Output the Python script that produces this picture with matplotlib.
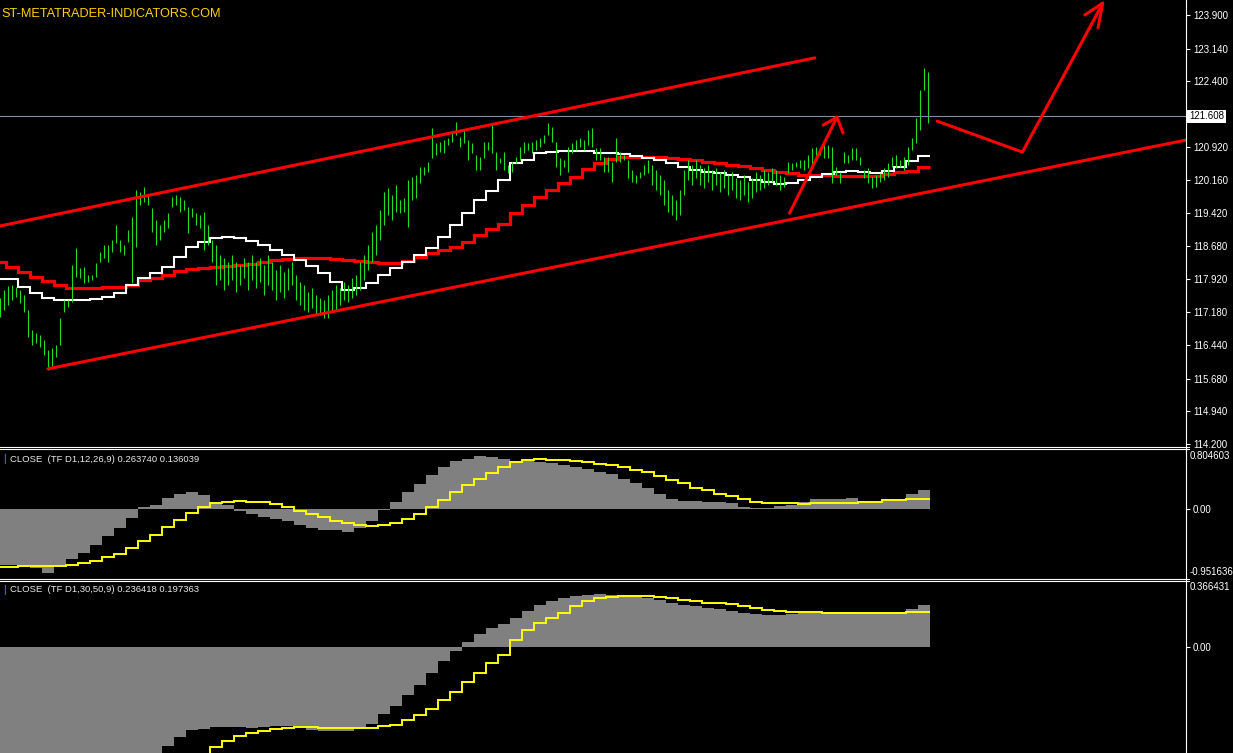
import numpy as np
import matplotlib
matplotlib.use("Agg")
import matplotlib.pyplot as plt
from matplotlib.lines import Line2D

plt.rcParams['font.family'] = ['Liberation Sans', 'DejaVu Sans']

# ---- price bars (H4, three per daily step) ----
bar_high = [
    117.50, 117.68, 117.77, 117.80, 117.75, 117.68, 117.57, 117.23, 116.78, 116.71,
    116.66, 116.55, 116.33, 116.37, 116.44, 117.05, 117.46, 117.46, 118.25, 118.63,
    118.18, 118.20, 118.02, 118.02, 118.29, 118.54, 118.70, 118.70, 118.81, 119.15,
    118.81, 118.70, 119.04, 119.33, 119.94, 119.90, 120.01, 119.83, 119.54, 119.27,
    119.15, 119.27, 119.42, 119.78, 119.83, 119.78, 119.72, 119.56, 119.54, 119.42,
    119.38, 119.45, 119.15, 118.81, 118.70, 118.47, 118.41, 118.32, 118.47, 118.32,
    118.25, 118.41, 118.32, 118.47, 118.32, 118.41, 118.25, 118.47, 118.32, 118.13,
    118.25, 118.09, 118.18, 118.32, 118.02, 117.86, 117.80, 117.64, 117.73, 117.57,
    117.50, 117.46, 117.57, 117.68, 117.80, 117.73, 117.86, 117.80, 117.95, 118.02,
    118.32, 118.47, 118.70, 119.00, 119.15, 119.49, 119.90, 119.99, 119.83, 120.06,
    119.72, 119.76, 120.17, 120.24, 120.28, 120.46, 120.46, 120.58, 121.34, 121.00,
    121.03, 121.07, 121.12, 121.23, 121.48, 121.14, 121.30, 121.07, 121.01, 120.73,
    120.69, 121.03, 121.03, 121.41, 120.80, 120.67, 120.80, 120.51, 120.58, 120.69,
    120.92, 121.03, 121.01, 121.03, 121.07, 121.12, 121.19, 121.46, 121.37, 121.03,
    120.67, 120.62, 120.92, 121.01, 121.07, 121.12, 121.07, 121.30, 121.34, 120.89,
    120.89, 120.69, 120.69, 120.58, 121.12, 120.80, 120.73, 120.62, 120.40, 120.28,
    120.35, 120.51, 120.62, 120.51, 120.40, 120.28, 120.17, 119.94, 119.83, 119.72,
    119.94, 120.40, 120.62, 120.51, 120.62, 120.51, 120.44, 120.51, 120.40, 120.44,
    120.35, 120.40, 120.28, 120.35, 120.21, 120.17, 120.28, 120.12, 120.21, 120.35,
    120.28, 120.40, 120.35, 120.44, 120.40, 120.28, 120.24, 120.58, 120.55, 120.58,
    120.62, 120.62, 120.73, 120.89, 120.92, 120.89, 120.96, 120.96, 120.92, 120.46,
    120.35, 120.80, 120.73, 120.89, 120.89, 120.69, 120.40, 120.44, 120.24, 120.28,
    120.33, 120.44, 120.55, 120.69, 120.73, 120.62, 120.69, 120.92, 121.12, 121.57,
    122.20, 122.70, 122.61,
]
bar_low = [
    117.07, 117.23, 117.34, 117.46, 117.52, 117.39, 117.18, 116.62, 116.44, 116.48,
    116.39, 116.21, 115.87, 115.96, 116.17, 116.44, 117.18, 117.30, 117.41, 117.98,
    117.95, 117.84, 117.86, 117.91, 117.98, 118.32, 118.41, 118.32, 118.54, 118.75,
    118.54, 118.47, 118.77, 117.84, 118.65, 119.60, 119.67, 119.60, 119.00, 118.70,
    118.81, 119.00, 119.08, 119.56, 119.60, 119.45, 119.49, 118.97, 119.33, 119.15,
    119.08, 118.59, 118.70, 118.32, 117.80, 117.91, 117.68, 117.80, 117.91, 117.64,
    117.80, 117.95, 117.68, 117.91, 117.73, 117.86, 117.57, 117.80, 117.68, 117.46,
    117.64, 117.50, 117.68, 117.80, 117.46, 117.34, 117.23, 117.18, 117.27, 117.12,
    117.12, 117.05, 117.05, 117.18, 117.23, 117.34, 117.46, 117.41, 117.50, 117.57,
    117.68, 117.91, 118.13, 118.32, 118.47, 118.81, 119.15, 119.38, 119.27, 119.45,
    119.42, 119.45, 119.11, 119.72, 119.76, 120.10, 120.28, 120.35, 120.67, 120.73,
    120.80, 120.78, 120.96, 121.03, 121.19, 120.91, 121.01, 120.62, 120.78, 120.40,
    120.40, 120.67, 120.85, 120.78, 120.40, 120.55, 120.40, 120.33, 120.35, 120.55,
    120.62, 120.78, 120.85, 120.78, 120.85, 120.91, 121.01, 121.19, 121.03, 120.46,
    120.28, 120.46, 120.35, 120.78, 120.85, 120.91, 120.85, 120.96, 120.91, 120.62,
    120.62, 120.35, 120.35, 120.12, 120.58, 120.58, 120.62, 120.21, 120.12, 120.10,
    120.21, 120.28, 120.33, 120.06, 119.94, 119.83, 119.60, 119.45, 119.38, 119.27,
    119.38, 119.83, 120.17, 120.06, 120.21, 120.06, 119.99, 120.12, 119.94, 120.06,
    119.90, 119.99, 119.83, 119.94, 119.76, 119.72, 119.83, 119.67, 119.76, 119.90,
    119.94, 119.99, 120.06, 120.12, 120.06, 119.94, 120.01, 120.33, 120.40, 120.46,
    120.44, 120.40, 120.44, 120.51, 120.69, 120.73, 120.67, 120.67, 120.10, 120.28,
    120.10, 120.55, 120.55, 120.62, 120.62, 120.51, 120.21, 120.10, 119.99, 120.01,
    120.12, 120.17, 120.24, 120.46, 120.44, 120.46, 120.40, 120.51, 120.85, 121.01,
    121.30, 122.20, 121.46,
]

# ---- daily moving averages (one value per day) ----
ma_fast = [
    117.93, 117.93, 117.75, 117.61, 117.50, 117.46, 117.46, 117.46, 117.48, 117.52,
    117.61, 117.80, 117.95, 118.07, 118.20, 118.43, 118.65, 118.77, 118.86, 118.88,
    118.86, 118.79, 118.70, 118.59, 118.47, 118.36, 118.22, 118.07, 117.86, 117.68,
    117.73, 117.84, 118.02, 118.18, 118.32, 118.47, 118.63, 118.88, 119.15, 119.42,
    119.72, 119.92, 120.17, 120.55, 120.62, 120.78, 120.80, 120.82, 120.82, 120.82,
    120.78, 120.78, 120.76, 120.71, 120.67, 120.62, 120.55, 120.46, 120.40, 120.35,
    120.33, 120.28, 120.24, 120.17, 120.12, 120.08, 120.10, 120.17, 120.24, 120.30,
    120.35, 120.37, 120.35, 120.33, 120.37, 120.46, 120.60, 120.71,
]
ma_slow = [
    118.32, 118.20, 118.09, 117.98, 117.89, 117.80, 117.73, 117.73, 117.73, 117.75,
    117.75, 117.80, 117.91, 117.95, 118.02, 118.11, 118.16, 118.18, 118.20, 118.22,
    118.25, 118.27, 118.32, 118.36, 118.38, 118.41, 118.41, 118.41, 118.38, 118.36,
    118.34, 118.32, 118.29, 118.29, 118.34, 118.43, 118.52, 118.59, 118.65, 118.77,
    118.93, 119.06, 119.17, 119.42, 119.60, 119.78, 119.94, 120.10, 120.24, 120.42,
    120.55, 120.64, 120.69, 120.69, 120.69, 120.69, 120.67, 120.64, 120.62, 120.58,
    120.55, 120.51, 120.49, 120.44, 120.40, 120.35, 120.33, 120.28, 120.28, 120.28,
    120.26, 120.26, 120.26, 120.26, 120.30, 120.35, 120.37, 120.46,
]

# ---- MACD (12,26,9) on D1 ----
macd1_hist = [
    -0.79, -0.78, -0.81, -0.83, -0.89, -0.80, -0.70, -0.615, -0.505, -0.375,
    -0.275, -0.13, 0.02, 0.055, 0.155, 0.21, 0.23, 0.185, 0.10, 0.055,
    -0.03, -0.075, -0.11, -0.14, -0.175, -0.22, -0.275, -0.30, -0.30, -0.32,
    -0.275, -0.175, -0.02, 0.10, 0.23, 0.35, 0.475, 0.58, 0.67, 0.70,
    0.735, 0.725, 0.70, 0.67, 0.67, 0.65, 0.635, 0.615, 0.58, 0.56,
    0.515, 0.485, 0.42, 0.36, 0.295, 0.21, 0.13, 0.11, 0.11, 0.095,
    0.095, 0.085, 0.03, 0.015, 0.015, 0.04, 0.055, 0.095, 0.13, 0.13,
    0.13, 0.155, 0.11, 0.085, 0.11, 0.11, 0.21, 0.264,
]
macd1_signal = [
    -0.81, -0.81, -0.80, -0.80, -0.80, -0.80, -0.79, -0.75, -0.725, -0.67,
    -0.625, -0.55, -0.445, -0.365, -0.25, -0.155, -0.06, 0.025, 0.08, 0.095,
    0.11, 0.10, 0.09, 0.065, 0.02, -0.035, -0.075, -0.12, -0.165, -0.195,
    -0.22, -0.24, -0.22, -0.195, -0.14, -0.07, 0.02, 0.115, 0.23, 0.325,
    0.42, 0.495, 0.58, 0.65, 0.685, 0.70, 0.685, 0.685, 0.67, 0.645,
    0.625, 0.605, 0.58, 0.54, 0.505, 0.45, 0.395, 0.355, 0.295, 0.255,
    0.21, 0.175, 0.13, 0.10, 0.085, 0.075, 0.075, 0.06, 0.075, 0.075,
    0.075, 0.085, 0.095, 0.10, 0.115, 0.115, 0.13, 0.136,
]

# ---- MACD (30,50,9) on D1 ----
macd2_hist = [
    -0.80, -0.80, -0.81, -0.82, -0.83, -0.83, -0.82, -0.80, -0.77, -0.74,
    -0.71, -0.68, -0.65, -0.62, -0.556, -0.51, -0.47, -0.46, -0.453, -0.453,
    -0.453, -0.459, -0.453, -0.448, -0.448, -0.444, -0.47, -0.476, -0.472, -0.476,
    -0.455, -0.433, -0.376, -0.331, -0.27, -0.213, -0.148, -0.079, -0.022, 0.028,
    0.073, 0.107, 0.129, 0.163, 0.202, 0.236, 0.258, 0.275, 0.287, 0.292,
    0.298, 0.292, 0.29, 0.287, 0.275, 0.264, 0.247, 0.236, 0.23, 0.219,
    0.213, 0.202, 0.19, 0.185, 0.18, 0.18, 0.185, 0.19, 0.197, 0.197,
    0.197, 0.197, 0.19, 0.19, 0.19, 0.197, 0.215, 0.236,
]
macd2_signal = [
    -0.90, -0.90, -0.90, -0.89, -0.88, -0.87, -0.86, -0.84, -0.82, -0.80,
    -0.78, -0.76, -0.74, -0.72, -0.70, -0.68, -0.66, -0.63, -0.562, -0.532,
    -0.504, -0.487, -0.472, -0.461, -0.455, -0.449, -0.453, -0.455, -0.455, -0.459,
    -0.459, -0.457, -0.448, -0.437, -0.414, -0.386, -0.347, -0.30, -0.251, -0.198,
    -0.144, -0.088, -0.045, 0.04, 0.096, 0.135, 0.163, 0.19, 0.23, 0.258,
    0.275, 0.281, 0.287, 0.287, 0.287, 0.281, 0.275, 0.264, 0.258, 0.247,
    0.247, 0.242, 0.23, 0.219, 0.208, 0.202, 0.197, 0.197, 0.197, 0.194,
    0.19, 0.19, 0.19, 0.19, 0.19, 0.194, 0.197, 0.197,
]

# ---- hand drawn objects (day, price) ----
channel_top = ([0.0, 67.9], [119.13, 122.93])
channel_bottom = ([4.0, 98.8], [115.90, 121.07])
arrow1 = ([65.8, 69.75], [119.42, 121.59])
arrow1_head = ([68.6, 69.75, 70.25], [121.41, 121.59, 121.23])
arrow2 = ([78.1, 85.2, 91.85], [121.50, 120.80, 124.14])
arrow2_head = ([90.4, 91.9, 91.5], [123.90, 124.17, 123.61])

price_ticks = [123.900, 123.140, 122.400, 120.920, 120.160, 119.420, 118.680,
               117.920, 117.180, 116.440, 115.680, 114.940, 114.200]
last_price = 121.608

W, H = 1233, 753
fig = plt.figure(figsize=(W / 100, H / 100), dpi=100, facecolor='black')
XR = 1186
FS = 7.0


def panel(top, bottom, ylim):
    ax = fig.add_axes([0, 1 - bottom / H, XR / W, (bottom - top) / H])
    ax.set_facecolor('black')
    for s in ax.spines.values():
        s.set_visible(False)
    ax.set_xlim(0, XR / 12)
    ax.set_ylim(*ylim)
    ax.set_xticks([])
    ax.yaxis.tick_right()
    ax.tick_params(axis='y', colors='white', length=3, width=0.8, pad=2,
                   labelsize=FS)
    return ax


days = np.arange(len(ma_fast))
edges = np.arange(len(ma_fast) + 1) - 0.5
bar_x = np.arange(len(bar_high)) / 3

# main chart
ax = panel(0, 446, (114.155, 124.239))
ax.vlines(bar_x, bar_low, bar_high, color='#22dd22', lw=0.8)
ax.axhline(last_price, color='#7f8fa6', lw=0.8)
ax.stairs(ma_slow, edges, baseline=None, color='#ff0000', lw=2.3)
ax.stairs(ma_fast, edges, baseline=None, color='white', lw=1.5)
red = dict(color='#ff0000', lw=2.2, solid_capstyle='round')
ax.plot(*channel_top, **red)
ax.plot(*channel_bottom, **red)
ax.plot(*arrow1, **red)
ax.plot(*arrow1_head, **red)
ax.plot(*arrow2, **red)
ax.plot(*arrow2_head, **red)
ax.set_yticks(price_ticks)
ax.set_yticklabels(['%.3f' % v for v in price_ticks])
ax.text(1.0 + 3 / XR, last_price, '%.3f' % last_price,
        transform=ax.get_yaxis_transform(),
        ha='left', va='center', fontsize=FS, color='black',
        bbox=dict(facecolor='white', edgecolor='none', pad=1.2))

# MACD 12,26,9
ax1 = panel(451, 577, (-0.951636, 0.804603))
ax1.bar(days, macd1_hist, width=1.0, color='#808080', linewidth=0)
ax1.stairs(macd1_signal, edges, baseline=None, color='#ffff00', lw=1.4)
ax1.set_yticks([0])
ax1.set_yticklabels(['0.00'])
ax1.text(1.0 + 4 / XR, 0.804603, '0.804603', transform=ax1.get_yaxis_transform(),
         ha='left', va='top', fontsize=FS, color='white')
ax1.text(1.0 + 4 / XR, -0.951636, '-0.951636', transform=ax1.get_yaxis_transform(),
         ha='left', va='bottom', fontsize=FS, color='white')

# MACD 30,50,9
ax2 = panel(582, 753, (-0.5975, 0.366431))
ax2.bar(days, macd2_hist, width=1.0, color='#808080', linewidth=0)
ax2.stairs(macd2_signal, edges, baseline=None, color='#ffff00', lw=1.4)
ax2.set_yticks([0])
ax2.set_yticklabels(['0.00'])
ax2.text(1.0 + 4 / XR, 0.366431, '0.366431', transform=ax2.get_yaxis_transform(),
         ha='left', va='top', fontsize=FS, color='white')


# window frame lines
def hline(y, x0=0, x1=XR + 3):
    fig.add_artist(Line2D([x0 / W, x1 / W], [1 - y / H, 1 - y / H],
                          transform=fig.transFigure, color='white', lw=0.8))


for y in (446.5, 448.5, 578.5, 580.5):
    hline(y)
fig.add_artist(Line2D([XR / W, XR / W], [0, 1], transform=fig.transFigure,
                      color='white', lw=0.8))

# texts
fig.text(1 / W, 1 - 14 / H, 'ST-METATRADER-INDICATORS.COM', color='#ffd200',
         fontsize=9.2, va='center', ha='left')
for y, label in ((459, 'CLOSE  (TF D1,12,26,9) 0.263740 0.136039'),
                 (590, 'CLOSE  (TF D1,30,50,9) 0.236418 0.197363')):
    fig.text(3 / W, 1 - y / H, '|', color='#2f8fff', fontsize=7.5, va='center')
    fig.text(10 / W, 1 - y / H, label, color='#e8e8e8', fontsize=6.8, va='center')

fig.savefig('out.png', dpi=100, facecolor='black')
